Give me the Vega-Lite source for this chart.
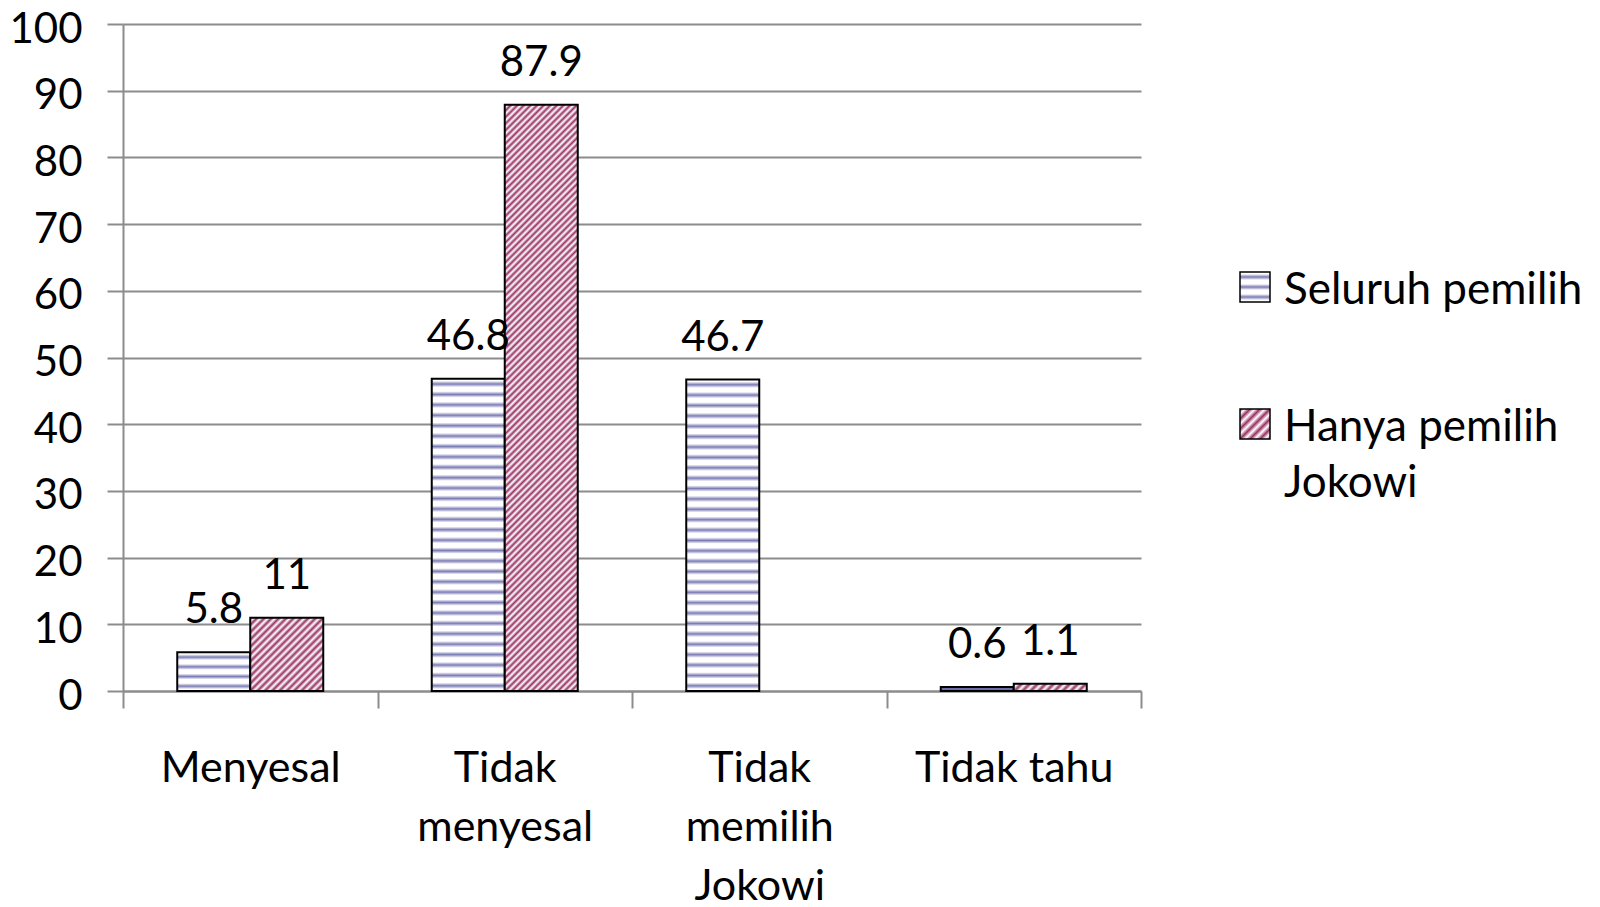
{
  "$schema": "https://vega.github.io/schema/vega-lite/v6.json",
  "width": 1018,
  "height": 667,
  "autosize": {"type": "none"},
  "padding": {"left": 123, "top": 24, "right": 459, "bottom": 216},
  "background": "white",
  "config": {
    "view": {"stroke": null},
    "font": "Lato"
  },
  "params": [
    {"name": "gBlueLegend", "value": {"gradient": "linear", "x1": 0, "y1": 0, "x2": 0, "y2": 1, "stops": [
      {"offset": 0.0667, "color": "#fff"}, {"offset": 0.1667, "color": "#7c7cb6"}, {"offset": 0.2667, "color": "#fff"},
      {"offset": 0.4, "color": "#fff"}, {"offset": 0.5, "color": "#7c7cb6"}, {"offset": 0.6, "color": "#fff"},
      {"offset": 0.7333, "color": "#fff"}, {"offset": 0.8333, "color": "#7c7cb6"}, {"offset": 0.9333, "color": "#fff"}
    ]}},
    {"name": "gMaroonLegend", "value": {"gradient": "linear", "x1": 0, "y1": 0, "x2": 1, "y2": 1, "stops": [
      {"offset": 0, "color": "#936"}, {"offset": 0.0833, "color": "#fff"}, {"offset": 0.1667, "color": "#936"},
      {"offset": 0.25, "color": "#fff"}, {"offset": 0.3333, "color": "#936"}, {"offset": 0.4167, "color": "#fff"},
      {"offset": 0.5, "color": "#936"}, {"offset": 0.5833, "color": "#fff"}, {"offset": 0.6667, "color": "#936"},
      {"offset": 0.75, "color": "#fff"}, {"offset": 0.8333, "color": "#936"}, {"offset": 0.9167, "color": "#fff"},
      {"offset": 1, "color": "#936"}
    ]}}
  ],
  "data": {
    "values": [
      {"kategori": "Menyesal", "kelompok": "Seluruh pemilih", "nilai": 5.8},
      {"kategori": "Menyesal", "kelompok": "Hanya pemilih Jokowi", "nilai": 11},
      {"kategori": "Tidak menyesal", "kelompok": "Seluruh pemilih", "nilai": 46.8},
      {"kategori": "Tidak menyesal", "kelompok": "Hanya pemilih Jokowi", "nilai": 87.9},
      {"kategori": "Tidak memilih Jokowi", "kelompok": "Seluruh pemilih", "nilai": 46.7},
      {"kategori": "Tidak tahu", "kelompok": "Seluruh pemilih", "nilai": 0.6},
      {"kategori": "Tidak tahu", "kelompok": "Hanya pemilih Jokowi", "nilai": 1.1}
    ]
  },
  "encoding": {
    "x": {
      "field": "kategori",
      "type": "nominal",
      "sort": ["Menyesal", "Tidak menyesal", "Tidak memilih Jokowi", "Tidak tahu"],
      "scale": {"paddingInner": 0, "paddingOuter": 0},
      "axis": {
        "title": null,
        "labelAngle": 0,
        "labelFontSize": 43,
        "labelColor": "black",
        "labelBaseline": "alphabetic",
        "labelPadding": 73,
        "labelLineHeight": 59,
        "labelLimit": 400,
        "labelExpr": "datum.label === 'Tidak menyesal' ? ['Tidak', 'menyesal'] : datum.label === 'Tidak memilih Jokowi' ? ['Tidak', 'memilih', 'Jokowi'] : datum.label",
        "tickBand": "extent",
        "tickSize": 17,
        "tickColor": "#8c8c8c",
        "tickWidth": 2,
        "domainColor": "#8c8c8c",
        "domainWidth": 2,
        "grid": false
      }
    },
    "xOffset": {
      "field": "kelompok",
      "type": "nominal",
      "sort": ["Seluruh pemilih", "Hanya pemilih Jokowi"],
      "scale": {"paddingInner": 0, "paddingOuter": 0.743}
    },
    "y": {
      "field": "nilai",
      "type": "quantitative",
      "scale": {"domain": [0, 100], "nice": false},
      "axis": {
        "title": null,
        "values": [0, 10, 20, 30, 40, 50, 60, 70, 80, 90, 100],
        "grid": true,
        "gridColor": "#8c8c8c",
        "gridWidth": 2,
        "domainColor": "#8c8c8c",
        "domainWidth": 2,
        "tickColor": "#8c8c8c",
        "tickWidth": 2,
        "tickSize": 16,
        "labelPadding": 25,
        "labelFontSize": 42,
        "labelColor": "black",
        "labelBaseline": "middle",
        "labelOffset": 5
      }
    }
  },
  "layer": [
    {
      "mark": {"type": "bar", "stroke": "black", "strokeWidth": 2},
      "encoding": {
        "fill": {
          "field": "kelompok",
          "type": "nominal",
          "scale": {"domain": ["Seluruh pemilih", "Hanya pemilih Jokowi"], "range": [{"expr": "gBlueLegend"}, {"expr": "gMaroonLegend"}]},
          "legend": {
            "title": null,
            "orient": "none",
            "legendX": 1110,
            "legendY": 241,
            "direction": "vertical",
            "padding": 0,
            "symbolType": "square",
            "symbolSize": 900,
            "symbolStrokeColor": "black",
            "symbolStrokeWidth": 1.5,
            "labelFontSize": 44,
            "labelColor": "black",
            "labelLimit": 400,
            "labelOffset": 7,
            "labelBaseline": "top",
            "rowPadding": 89,
            "labelExpr": "datum.label === 'Hanya pemilih Jokowi' ? ['Hanya pemilih', 'Jokowi'] : datum.label",
            "encode": {
              "labels": {
                "update": {
                  "dy": {"value": -18},
                  "lineHeight": {"value": 56}
                }
              }
            }
          },
          "condition": [
            {"test": "datum.kelompok === 'Seluruh pemilih' && datum.nilai > 20", "value": {"gradient": "linear", "x1": 0, "y1": 0, "x2": 0, "y2": 1, "stops": [
              {"offset": 0.0067, "color": "#fff"}, {"offset": 0.0167, "color": "#7c7cb6"}, {"offset": 0.0267, "color": "#fff"},
              {"offset": 0.04, "color": "#fff"}, {"offset": 0.05, "color": "#7c7cb6"}, {"offset": 0.06, "color": "#fff"},
              {"offset": 0.0733, "color": "#fff"}, {"offset": 0.0833, "color": "#7c7cb6"}, {"offset": 0.0933, "color": "#fff"},
              {"offset": 0.1067, "color": "#fff"}, {"offset": 0.1167, "color": "#7c7cb6"}, {"offset": 0.1267, "color": "#fff"},
              {"offset": 0.14, "color": "#fff"}, {"offset": 0.15, "color": "#7c7cb6"}, {"offset": 0.16, "color": "#fff"},
              {"offset": 0.1733, "color": "#fff"}, {"offset": 0.1833, "color": "#7c7cb6"}, {"offset": 0.1933, "color": "#fff"},
              {"offset": 0.2067, "color": "#fff"}, {"offset": 0.2167, "color": "#7c7cb6"}, {"offset": 0.2267, "color": "#fff"},
              {"offset": 0.24, "color": "#fff"}, {"offset": 0.25, "color": "#7c7cb6"}, {"offset": 0.26, "color": "#fff"},
              {"offset": 0.2733, "color": "#fff"}, {"offset": 0.2833, "color": "#7c7cb6"}, {"offset": 0.2933, "color": "#fff"},
              {"offset": 0.3067, "color": "#fff"}, {"offset": 0.3167, "color": "#7c7cb6"}, {"offset": 0.3267, "color": "#fff"},
              {"offset": 0.34, "color": "#fff"}, {"offset": 0.35, "color": "#7c7cb6"}, {"offset": 0.36, "color": "#fff"},
              {"offset": 0.3733, "color": "#fff"}, {"offset": 0.3833, "color": "#7c7cb6"}, {"offset": 0.3933, "color": "#fff"},
              {"offset": 0.4067, "color": "#fff"}, {"offset": 0.4167, "color": "#7c7cb6"}, {"offset": 0.4267, "color": "#fff"},
              {"offset": 0.44, "color": "#fff"}, {"offset": 0.45, "color": "#7c7cb6"}, {"offset": 0.46, "color": "#fff"},
              {"offset": 0.4733, "color": "#fff"}, {"offset": 0.4833, "color": "#7c7cb6"}, {"offset": 0.4933, "color": "#fff"},
              {"offset": 0.5067, "color": "#fff"}, {"offset": 0.5167, "color": "#7c7cb6"}, {"offset": 0.5267, "color": "#fff"},
              {"offset": 0.54, "color": "#fff"}, {"offset": 0.55, "color": "#7c7cb6"}, {"offset": 0.56, "color": "#fff"},
              {"offset": 0.5733, "color": "#fff"}, {"offset": 0.5833, "color": "#7c7cb6"}, {"offset": 0.5933, "color": "#fff"},
              {"offset": 0.6067, "color": "#fff"}, {"offset": 0.6167, "color": "#7c7cb6"}, {"offset": 0.6267, "color": "#fff"},
              {"offset": 0.64, "color": "#fff"}, {"offset": 0.65, "color": "#7c7cb6"}, {"offset": 0.66, "color": "#fff"},
              {"offset": 0.6733, "color": "#fff"}, {"offset": 0.6833, "color": "#7c7cb6"}, {"offset": 0.6933, "color": "#fff"},
              {"offset": 0.7067, "color": "#fff"}, {"offset": 0.7167, "color": "#7c7cb6"}, {"offset": 0.7267, "color": "#fff"},
              {"offset": 0.74, "color": "#fff"}, {"offset": 0.75, "color": "#7c7cb6"}, {"offset": 0.76, "color": "#fff"},
              {"offset": 0.7733, "color": "#fff"}, {"offset": 0.7833, "color": "#7c7cb6"}, {"offset": 0.7933, "color": "#fff"},
              {"offset": 0.8067, "color": "#fff"}, {"offset": 0.8167, "color": "#7c7cb6"}, {"offset": 0.8267, "color": "#fff"},
              {"offset": 0.84, "color": "#fff"}, {"offset": 0.85, "color": "#7c7cb6"}, {"offset": 0.86, "color": "#fff"},
              {"offset": 0.8733, "color": "#fff"}, {"offset": 0.8833, "color": "#7c7cb6"}, {"offset": 0.8933, "color": "#fff"},
              {"offset": 0.9067, "color": "#fff"}, {"offset": 0.9167, "color": "#7c7cb6"}, {"offset": 0.9267, "color": "#fff"},
              {"offset": 0.94, "color": "#fff"}, {"offset": 0.95, "color": "#7c7cb6"}, {"offset": 0.96, "color": "#fff"},
              {"offset": 0.9733, "color": "#fff"}, {"offset": 0.9833, "color": "#7c7cb6"}, {"offset": 0.9933, "color": "#fff"}
            ]}},
            {"test": "datum.kelompok === 'Seluruh pemilih' && datum.nilai > 2", "value": {"gradient": "linear", "x1": 0, "y1": 0, "x2": 0, "y2": 1, "stops": [
              {"offset": 0.05, "color": "#fff"}, {"offset": 0.125, "color": "#7c7cb6"}, {"offset": 0.2, "color": "#fff"},
              {"offset": 0.3, "color": "#fff"}, {"offset": 0.375, "color": "#7c7cb6"}, {"offset": 0.45, "color": "#fff"},
              {"offset": 0.55, "color": "#fff"}, {"offset": 0.625, "color": "#7c7cb6"}, {"offset": 0.7, "color": "#fff"},
              {"offset": 0.8, "color": "#fff"}, {"offset": 0.875, "color": "#7c7cb6"}, {"offset": 0.95, "color": "#fff"}
            ]}},
            {"test": "datum.kelompok === 'Seluruh pemilih'", "value": "#6c6ca8"},
            {"test": "datum.nilai > 50", "value": {"gradient": "linear", "x1": 0, "y1": 0, "x2": 0.1379, "y2": 1.1073, "stops": [
              {"offset": 0, "color": "#936"}, {"offset": 0.005, "color": "#fff"}, {"offset": 0.01, "color": "#936"}, {"offset": 0.015, "color": "#fff"}, {"offset": 0.02, "color": "#936"}, {"offset": 0.025, "color": "#fff"}, {"offset": 0.03, "color": "#936"}, {"offset": 0.035, "color": "#fff"}, {"offset": 0.04, "color": "#936"}, {"offset": 0.045, "color": "#fff"},
              {"offset": 0.05, "color": "#936"}, {"offset": 0.055, "color": "#fff"}, {"offset": 0.06, "color": "#936"}, {"offset": 0.065, "color": "#fff"}, {"offset": 0.07, "color": "#936"}, {"offset": 0.075, "color": "#fff"}, {"offset": 0.08, "color": "#936"}, {"offset": 0.085, "color": "#fff"}, {"offset": 0.09, "color": "#936"}, {"offset": 0.095, "color": "#fff"},
              {"offset": 0.1, "color": "#936"}, {"offset": 0.105, "color": "#fff"}, {"offset": 0.11, "color": "#936"}, {"offset": 0.115, "color": "#fff"}, {"offset": 0.12, "color": "#936"}, {"offset": 0.125, "color": "#fff"}, {"offset": 0.13, "color": "#936"}, {"offset": 0.135, "color": "#fff"}, {"offset": 0.14, "color": "#936"}, {"offset": 0.145, "color": "#fff"},
              {"offset": 0.15, "color": "#936"}, {"offset": 0.155, "color": "#fff"}, {"offset": 0.16, "color": "#936"}, {"offset": 0.165, "color": "#fff"}, {"offset": 0.17, "color": "#936"}, {"offset": 0.175, "color": "#fff"}, {"offset": 0.18, "color": "#936"}, {"offset": 0.185, "color": "#fff"}, {"offset": 0.19, "color": "#936"}, {"offset": 0.195, "color": "#fff"},
              {"offset": 0.2, "color": "#936"}, {"offset": 0.205, "color": "#fff"}, {"offset": 0.21, "color": "#936"}, {"offset": 0.215, "color": "#fff"}, {"offset": 0.22, "color": "#936"}, {"offset": 0.225, "color": "#fff"}, {"offset": 0.23, "color": "#936"}, {"offset": 0.235, "color": "#fff"}, {"offset": 0.24, "color": "#936"}, {"offset": 0.245, "color": "#fff"},
              {"offset": 0.25, "color": "#936"}, {"offset": 0.255, "color": "#fff"}, {"offset": 0.26, "color": "#936"}, {"offset": 0.265, "color": "#fff"}, {"offset": 0.27, "color": "#936"}, {"offset": 0.275, "color": "#fff"}, {"offset": 0.28, "color": "#936"}, {"offset": 0.285, "color": "#fff"}, {"offset": 0.29, "color": "#936"}, {"offset": 0.295, "color": "#fff"},
              {"offset": 0.3, "color": "#936"}, {"offset": 0.305, "color": "#fff"}, {"offset": 0.31, "color": "#936"}, {"offset": 0.315, "color": "#fff"}, {"offset": 0.32, "color": "#936"}, {"offset": 0.325, "color": "#fff"}, {"offset": 0.33, "color": "#936"}, {"offset": 0.335, "color": "#fff"}, {"offset": 0.34, "color": "#936"}, {"offset": 0.345, "color": "#fff"},
              {"offset": 0.35, "color": "#936"}, {"offset": 0.355, "color": "#fff"}, {"offset": 0.36, "color": "#936"}, {"offset": 0.365, "color": "#fff"}, {"offset": 0.37, "color": "#936"}, {"offset": 0.375, "color": "#fff"}, {"offset": 0.38, "color": "#936"}, {"offset": 0.385, "color": "#fff"}, {"offset": 0.39, "color": "#936"}, {"offset": 0.395, "color": "#fff"},
              {"offset": 0.4, "color": "#936"}, {"offset": 0.405, "color": "#fff"}, {"offset": 0.41, "color": "#936"}, {"offset": 0.415, "color": "#fff"}, {"offset": 0.42, "color": "#936"}, {"offset": 0.425, "color": "#fff"}, {"offset": 0.43, "color": "#936"}, {"offset": 0.435, "color": "#fff"}, {"offset": 0.44, "color": "#936"}, {"offset": 0.445, "color": "#fff"},
              {"offset": 0.45, "color": "#936"}, {"offset": 0.455, "color": "#fff"}, {"offset": 0.46, "color": "#936"}, {"offset": 0.465, "color": "#fff"}, {"offset": 0.47, "color": "#936"}, {"offset": 0.475, "color": "#fff"}, {"offset": 0.48, "color": "#936"}, {"offset": 0.485, "color": "#fff"}, {"offset": 0.49, "color": "#936"}, {"offset": 0.495, "color": "#fff"},
              {"offset": 0.5, "color": "#936"}, {"offset": 0.505, "color": "#fff"}, {"offset": 0.51, "color": "#936"}, {"offset": 0.515, "color": "#fff"}, {"offset": 0.52, "color": "#936"}, {"offset": 0.525, "color": "#fff"}, {"offset": 0.53, "color": "#936"}, {"offset": 0.535, "color": "#fff"}, {"offset": 0.54, "color": "#936"}, {"offset": 0.545, "color": "#fff"},
              {"offset": 0.55, "color": "#936"}, {"offset": 0.555, "color": "#fff"}, {"offset": 0.56, "color": "#936"}, {"offset": 0.565, "color": "#fff"}, {"offset": 0.57, "color": "#936"}, {"offset": 0.575, "color": "#fff"}, {"offset": 0.58, "color": "#936"}, {"offset": 0.585, "color": "#fff"}, {"offset": 0.59, "color": "#936"}, {"offset": 0.595, "color": "#fff"},
              {"offset": 0.6, "color": "#936"}, {"offset": 0.605, "color": "#fff"}, {"offset": 0.61, "color": "#936"}, {"offset": 0.615, "color": "#fff"}, {"offset": 0.62, "color": "#936"}, {"offset": 0.625, "color": "#fff"}, {"offset": 0.63, "color": "#936"}, {"offset": 0.635, "color": "#fff"}, {"offset": 0.64, "color": "#936"}, {"offset": 0.645, "color": "#fff"},
              {"offset": 0.65, "color": "#936"}, {"offset": 0.655, "color": "#fff"}, {"offset": 0.66, "color": "#936"}, {"offset": 0.665, "color": "#fff"}, {"offset": 0.67, "color": "#936"}, {"offset": 0.675, "color": "#fff"}, {"offset": 0.68, "color": "#936"}, {"offset": 0.685, "color": "#fff"}, {"offset": 0.69, "color": "#936"}, {"offset": 0.695, "color": "#fff"},
              {"offset": 0.7, "color": "#936"}, {"offset": 0.705, "color": "#fff"}, {"offset": 0.71, "color": "#936"}, {"offset": 0.715, "color": "#fff"}, {"offset": 0.72, "color": "#936"}, {"offset": 0.725, "color": "#fff"}, {"offset": 0.73, "color": "#936"}, {"offset": 0.735, "color": "#fff"}, {"offset": 0.74, "color": "#936"}, {"offset": 0.745, "color": "#fff"},
              {"offset": 0.75, "color": "#936"}, {"offset": 0.755, "color": "#fff"}, {"offset": 0.76, "color": "#936"}, {"offset": 0.765, "color": "#fff"}, {"offset": 0.77, "color": "#936"}, {"offset": 0.775, "color": "#fff"}, {"offset": 0.78, "color": "#936"}, {"offset": 0.785, "color": "#fff"}, {"offset": 0.79, "color": "#936"}, {"offset": 0.795, "color": "#fff"},
              {"offset": 0.8, "color": "#936"}, {"offset": 0.805, "color": "#fff"}, {"offset": 0.81, "color": "#936"}, {"offset": 0.815, "color": "#fff"}, {"offset": 0.82, "color": "#936"}, {"offset": 0.825, "color": "#fff"}, {"offset": 0.83, "color": "#936"}, {"offset": 0.835, "color": "#fff"}, {"offset": 0.84, "color": "#936"}, {"offset": 0.845, "color": "#fff"},
              {"offset": 0.85, "color": "#936"}, {"offset": 0.855, "color": "#fff"}, {"offset": 0.86, "color": "#936"}, {"offset": 0.865, "color": "#fff"}, {"offset": 0.87, "color": "#936"}, {"offset": 0.875, "color": "#fff"}, {"offset": 0.88, "color": "#936"}, {"offset": 0.885, "color": "#fff"}, {"offset": 0.89, "color": "#936"}, {"offset": 0.895, "color": "#fff"},
              {"offset": 0.9, "color": "#936"}, {"offset": 0.905, "color": "#fff"}, {"offset": 0.91, "color": "#936"}, {"offset": 0.915, "color": "#fff"}, {"offset": 0.92, "color": "#936"}, {"offset": 0.925, "color": "#fff"}, {"offset": 0.93, "color": "#936"}, {"offset": 0.935, "color": "#fff"}, {"offset": 0.94, "color": "#936"}, {"offset": 0.945, "color": "#fff"},
              {"offset": 0.95, "color": "#936"}, {"offset": 0.955, "color": "#fff"}, {"offset": 0.96, "color": "#936"}, {"offset": 0.965, "color": "#fff"}, {"offset": 0.97, "color": "#936"}, {"offset": 0.975, "color": "#fff"}, {"offset": 0.98, "color": "#936"}, {"offset": 0.985, "color": "#fff"}, {"offset": 0.99, "color": "#936"}, {"offset": 0.995, "color": "#fff"},
              {"offset": 1, "color": "#936"}
            ]}},
            {"test": "datum.nilai > 5", "value": {"gradient": "linear", "x1": 0, "y1": 0, "x2": 0.9973, "y2": 1.0027, "stops": [
              {"offset": 0, "color": "#936"}, {"offset": 0.025, "color": "#fff"}, {"offset": 0.05, "color": "#936"}, {"offset": 0.075, "color": "#fff"},
              {"offset": 0.1, "color": "#936"}, {"offset": 0.125, "color": "#fff"}, {"offset": 0.15, "color": "#936"}, {"offset": 0.175, "color": "#fff"},
              {"offset": 0.2, "color": "#936"}, {"offset": 0.225, "color": "#fff"}, {"offset": 0.25, "color": "#936"}, {"offset": 0.275, "color": "#fff"},
              {"offset": 0.3, "color": "#936"}, {"offset": 0.325, "color": "#fff"}, {"offset": 0.35, "color": "#936"}, {"offset": 0.375, "color": "#fff"},
              {"offset": 0.4, "color": "#936"}, {"offset": 0.425, "color": "#fff"}, {"offset": 0.45, "color": "#936"}, {"offset": 0.475, "color": "#fff"},
              {"offset": 0.5, "color": "#936"}, {"offset": 0.525, "color": "#fff"}, {"offset": 0.55, "color": "#936"}, {"offset": 0.575, "color": "#fff"},
              {"offset": 0.6, "color": "#936"}, {"offset": 0.625, "color": "#fff"}, {"offset": 0.65, "color": "#936"}, {"offset": 0.675, "color": "#fff"},
              {"offset": 0.7, "color": "#936"}, {"offset": 0.725, "color": "#fff"}, {"offset": 0.75, "color": "#936"}, {"offset": 0.775, "color": "#fff"},
              {"offset": 0.8, "color": "#936"}, {"offset": 0.825, "color": "#fff"}, {"offset": 0.85, "color": "#936"}, {"offset": 0.875, "color": "#fff"},
              {"offset": 0.9, "color": "#936"}, {"offset": 0.925, "color": "#fff"}, {"offset": 0.95, "color": "#936"}, {"offset": 0.975, "color": "#fff"},
              {"offset": 1, "color": "#936"}
            ]}},
            {"test": "datum.kelompok === 'Hanya pemilih Jokowi'", "value": {"gradient": "linear", "x1": 0, "y1": 0, "x2": 1.0891, "y2": 0.1089, "stops": [
              {"offset": 0, "color": "#936"}, {"offset": 0.05, "color": "#fff"}, {"offset": 0.1, "color": "#936"}, {"offset": 0.15, "color": "#fff"},
              {"offset": 0.2, "color": "#936"}, {"offset": 0.25, "color": "#fff"}, {"offset": 0.3, "color": "#936"}, {"offset": 0.35, "color": "#fff"},
              {"offset": 0.4, "color": "#936"}, {"offset": 0.45, "color": "#fff"}, {"offset": 0.5, "color": "#936"}, {"offset": 0.55, "color": "#fff"},
              {"offset": 0.6, "color": "#936"}, {"offset": 0.65, "color": "#fff"}, {"offset": 0.7, "color": "#936"}, {"offset": 0.75, "color": "#fff"},
              {"offset": 0.8, "color": "#936"}, {"offset": 0.85, "color": "#fff"}, {"offset": 0.9, "color": "#936"}, {"offset": 0.95, "color": "#fff"},
              {"offset": 1, "color": "#936"}
            ]}}
          ]
        }
      }
    },
    {
      "mark": {"type": "text", "baseline": "alphabetic", "align": "center", "dy": -29, "fontSize": 42, "font": "Lato", "color": "black"},
      "encoding": {
        "text": {"field": "nilai", "type": "nominal"}
      }
    }
  ]
}
